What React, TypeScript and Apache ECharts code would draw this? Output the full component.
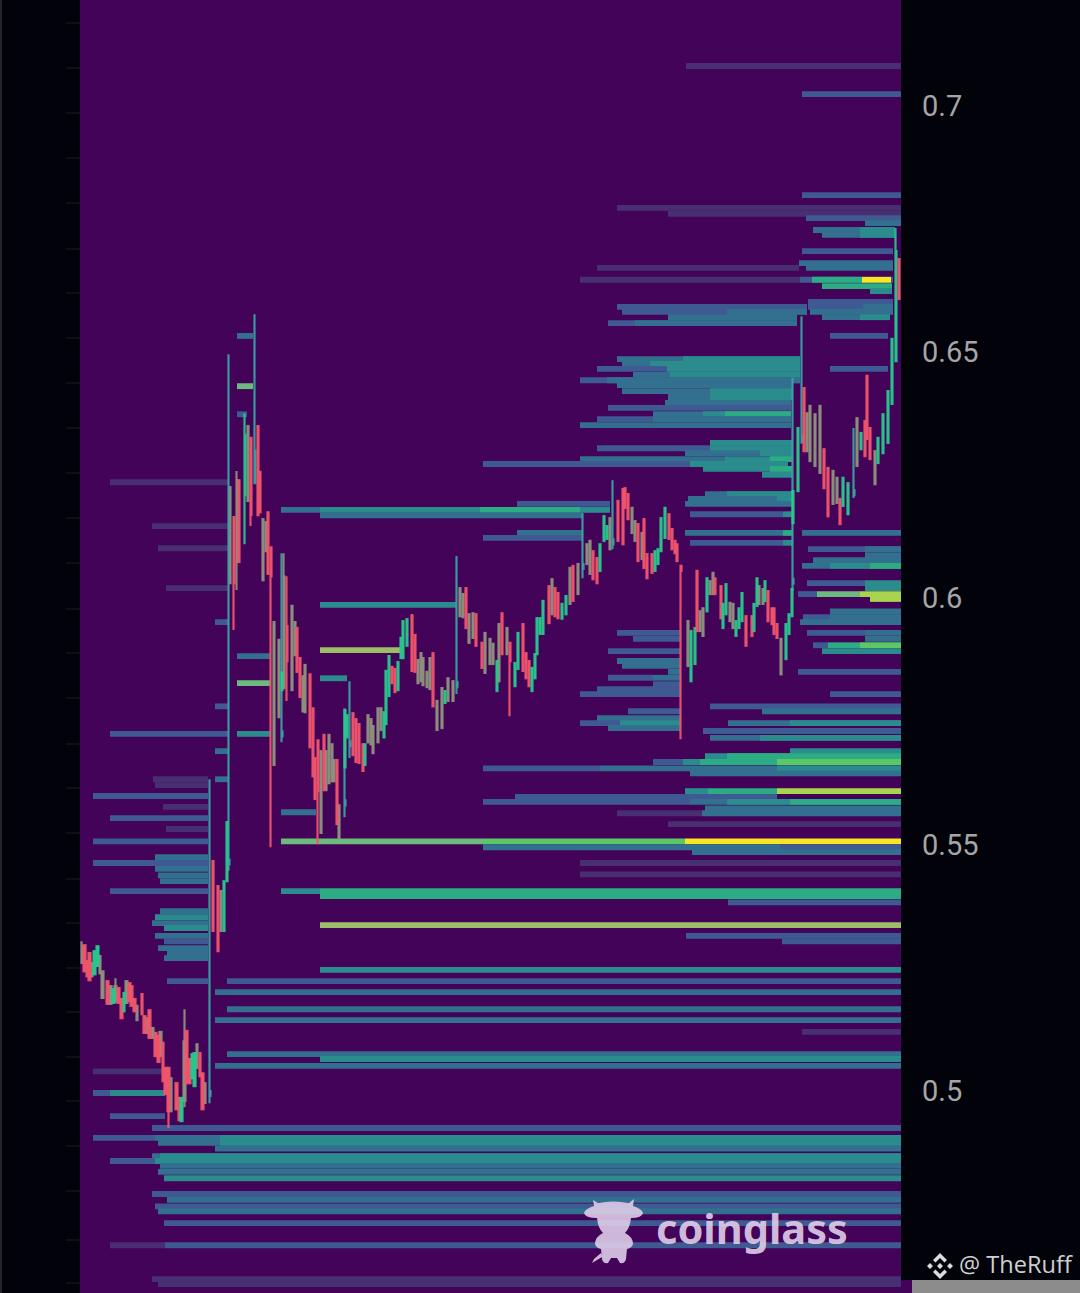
import React, { useEffect, useRef } from "react";
import * as echarts from "echarts";

// y-axis labels
const priceTicks = [0.5, 0.55, 0.6, 0.65, 0.7];
const minorTicks = [
  0.7168, 0.7077, 0.6986, 0.6894, 0.6803, 0.6711, 0.662, 0.6529, 0.6437, 0.6346, 0.6255, 0.6163, 0.6072, 0.598, 0.5889,
  0.5798, 0.5706, 0.5615, 0.5524, 0.5432, 0.5341, 0.525, 0.516, 0.5069, 0.498, 0.4888, 0.4797, 0.4699, 0.461,
];

// viridis-like liquidation levels (8 and 9 are the washed-out tones of the thin lines)
const heatColors = ["#482f72", "#3f5a92", "#33708f", "#2b8c8e", "#2bac82", "#5cc765", "#a8d44e", "#f7e422", "#9dbd66", "#6dbb7c"];

// [price, startTime, endTime, level]
const liquidationRows = [
  [0.7081, 606, 821, 0], [0.7024, 722, 821, 1], [0.6819, 722, 821, 1], [0.6793, 537, 821, 0], [0.6781, 588, 821, 0],
  [0.6772, 726, 821, 1], [0.6762, 785, 821, 2], [0.6748, 733, 815, 2], [0.6748, 780, 815, 3], [0.6738, 742, 815, 2],
  [0.6738, 780, 815, 3], [0.6705, 722, 813, 1], [0.6681, 719, 813, 2], [0.6671, 517, 719, 0], [0.6671, 726, 813, 2],
  [0.6647, 500, 720, 0], [0.6647, 720, 813, 1], [0.6647, 732, 782, 4], [0.6647, 782, 811, 7], [0.6634, 742, 812, 4],
  [0.6624, 790, 812, 3], [0.6602, 728, 813, 1], [0.6592, 537, 727, 1], [0.6592, 728, 783, 1], [0.6592, 783, 813, 2],
  [0.6582, 542, 727, 1], [0.6582, 647, 727, 2], [0.6582, 730, 813, 2], [0.6571, 588, 717, 2], [0.6571, 742, 810, 2],
  [0.6571, 780, 810, 3], [0.6559, 528, 717, 1], [0.6559, 555, 717, 2], [0.6533, 750, 808, 1], [0.6486, 537, 720, 2],
  [0.6486, 603, 720, 3], [0.6476, 542, 720, 2], [0.6476, 570, 720, 3], [0.6466, 517, 720, 1], [0.6466, 587, 720, 3],
  [0.6466, 750, 808, 1], [0.6454, 553, 720, 2], [0.6454, 590, 720, 3], [0.6443, 500, 720, 1], [0.6443, 527, 720, 2],
  [0.6433, 537, 713, 2], [0.6421, 542, 713, 2], [0.6421, 630, 713, 3], [0.6409, 588, 713, 2], [0.6409, 630, 713, 3],
  [0.6397, 585, 711, 2], [0.6387, 528, 711, 1], [0.6374, 573, 711, 2], [0.6374, 623, 711, 3], [0.6374, 645, 711, 4],
  [0.6364, 517, 711, 1], [0.6364, 573, 711, 2], [0.6352, 500, 711, 2], [0.6316, 630, 713, 3], [0.6305, 517, 713, 1],
  [0.6305, 630, 713, 3], [0.6295, 605, 713, 2], [0.6295, 680, 713, 3], [0.6283, 500, 645, 2], [0.6283, 645, 713, 3],
  [0.6283, 690, 713, 4], [0.6273, 403, 610, 1], [0.6273, 610, 708, 3], [0.6263, 623, 712, 3], [0.6263, 690, 712, 4],
  [0.6251, 682, 712, 3], [0.6212, 625, 713, 2], [0.6212, 647, 713, 3], [0.6202, 608, 713, 2], [0.6202, 697, 713, 3],
  [0.6192, 605, 713, 2], [0.6192, 437, 530, 1], [0.618, 201, 240, 2], [0.618, 240, 530, 3], [0.618, 400, 500, 4],
  [0.6169, 240, 503, 2], [0.6171, 610, 703, 1], [0.6171, 703, 713, 3], [0.6133, 437, 503, 2], [0.6133, 605, 703, 2],
  [0.6133, 703, 713, 4], [0.6133, 722, 821, 2], [0.6123, 403, 503, 1], [0.6113, 610, 703, 1], [0.6113, 703, 713, 3],
  [0.61, 728, 821, 1], [0.61, 785, 821, 2], [0.6088, 785, 821, 2], [0.6078, 733, 821, 2], [0.6066, 722, 821, 2],
  [0.6066, 750, 821, 3], [0.6066, 790, 821, 4], [0.6031, 727, 785, 1], [0.6031, 785, 821, 3], [0.6021, 785, 821, 3],
  [0.6009, 718, 737, 1], [0.6009, 737, 780, 9], [0.6009, 780, 821, 6], [0.5999, 790, 821, 6], [0.5974, 750, 821, 2],
  [0.5962, 723, 821, 1], [0.5962, 750, 821, 2], [0.5952, 720, 821, 2], [0.593, 727, 785, 1], [0.593, 785, 821, 2],
  [0.593, 537, 601, 1], [0.5918, 785, 821, 2], [0.5918, 553, 601, 1], [0.5905, 733, 748, 1], [0.5905, 748, 780, 4],
  [0.5905, 780, 821, 5], [0.5893, 742, 821, 3], [0.5893, 528, 601, 1], [0.5873, 537, 601, 2], [0.5863, 542, 601, 2],
  [0.5851, 718, 821, 1], [0.5851, 588, 601, 2], [0.5839, 528, 573, 1], [0.5839, 573, 601, 2], [0.5826, 573, 601, 1],
  [0.5816, 517, 601, 1], [0.5806, 500, 601, 1], [0.5806, 750, 821, 1], [0.5781, 630, 821, 1], [0.5771, 548, 601, 1],
  [0.5771, 682, 821, 2], [0.5757, 517, 601, 2], [0.5747, 500, 601, 1], [0.5747, 540, 601, 3], [0.5747, 648, 821, 2],
  [0.5747, 710, 821, 3], [0.5737, 528, 601, 2], [0.5731, 623, 821, 1], [0.5717, 630, 821, 2], [0.5717, 680, 821, 3],
  [0.569, 710, 821, 3], [0.568, 625, 821, 3], [0.568, 647, 821, 4], [0.5668, 573, 821, 1], [0.5668, 603, 821, 3],
  [0.5668, 620, 821, 4], [0.5668, 697, 821, 5], [0.5655, 403, 520, 1], [0.5655, 520, 821, 2], [0.5655, 697, 821, 3],
  [0.5645, 610, 821, 2], [0.5609, 605, 628, 3], [0.5609, 628, 697, 4], [0.5609, 697, 821, 6], [0.5597, 435, 697, 1],
  [0.5587, 403, 610, 1], [0.5587, 610, 821, 2], [0.5587, 647, 821, 3], [0.5587, 710, 821, 4], [0.5574, 625, 821, 2],
  [0.5564, 537, 622, 0], [0.5564, 622, 821, 2], [0.5542, 588, 821, 0], [0.5507, 201, 403, 9], [0.5507, 403, 605, 5],
  [0.5507, 605, 821, 7], [0.5495, 403, 700, 2], [0.5495, 700, 821, 1], [0.5485, 612, 821, 2], [0.5463, 500, 821, 0],
  [0.544, 500, 821, 0], [0.5406, 201, 240, 3], [0.5406, 240, 821, 4], [0.5396, 240, 821, 4], [0.5383, 648, 821, 1],
  [0.5337, 240, 821, 8], [0.5315, 606, 821, 1], [0.5304, 702, 821, 1], [0.5246, 240, 821, 3], [0.5223, 147, 821, 1],
  [0.5201, 135, 821, 2], [0.5166, 147, 821, 2], [0.5144, 135, 821, 2], [0.512, 722, 821, 0], [0.5075, 147, 821, 2],
  [0.5065, 240, 821, 3], [0.5051, 135, 821, 2], [0.4925, 72, 821, 1], [0.4905, 13, 75, 1], [0.4905, 75, 821, 2],
  [0.4905, 140, 821, 3], [0.4895, 78, 821, 2], [0.4895, 140, 821, 3], [0.4883, 135, 821, 2], [0.4868, 72, 821, 2],
  [0.4868, 80, 821, 3], [0.4858, 30, 75, 1], [0.4858, 75, 821, 3], [0.4848, 80, 821, 2], [0.4836, 78, 821, 2],
  [0.4823, 84, 821, 3], [0.4791, 72, 821, 1], [0.4779, 87, 821, 2], [0.4766, 75, 821, 1], [0.4756, 78, 821, 2],
  [0.4732, 84, 821, 1], [0.4687, 30, 85, 0], [0.4687, 85, 821, 1], [0.4618, 72, 821, 0], [0.4608, 78, 821, 0],
  [0.6236, 30, 148, 0], [0.6147, 72, 148, 0], [0.6102, 78, 148, 0], [0.6021, 86, 148, 0], [0.5952, 135, 148, 1],
  [0.5781, 135, 148, 1], [0.5725, 30, 148, 1], [0.569, 135, 148, 2], [0.5633, 135, 148, 2], [0.5633, 73, 128, 0],
  [0.5621, 75, 128, 0], [0.5599, 13, 128, 1], [0.5577, 83, 128, 0], [0.5554, 30, 128, 1], [0.5532, 86, 128, 0],
  [0.5507, 13, 128, 1], [0.5475, 75, 128, 2], [0.5463, 13, 128, 1], [0.5451, 75, 128, 2], [0.5438, 78, 128, 2],
  [0.5426, 80, 128, 2], [0.5406, 30, 128, 1], [0.5365, 80, 128, 2], [0.5353, 75, 128, 3], [0.5341, 72, 128, 2],
  [0.5331, 84, 128, 3], [0.5315, 75, 128, 2], [0.5304, 84, 128, 1], [0.529, 78, 128, 2], [0.528, 87, 128, 2],
  [0.527, 84, 128, 2], [0.5223, 87, 128, 1], [0.504, 13, 82, 0], [0.4996, 13, 85, 1], [0.4996, 30, 85, 3],
  [0.4949, 30, 85, 1], [0.6533, 157, 173, 2], [0.6431, 157, 173, 9], [0.6374, 157, 167, 1], [0.5883, 157, 190, 2],
  [0.5828, 157, 191, 9], [0.5725, 157, 191, 3], [0.5987, 240, 376, 3], [0.5895, 240, 322, 8], [0.5838, 240, 267, 3],
  [0.5566, 201, 236, 2],
];

// [time, open, close, low?, high?]
const wickCandles = [
  [130, 0.499, 0.5, 0.4975, 0.5633], [149, 0.546, 0.547, 0.5447, 0.6496], [175, 0.6234, 0.63, 0.6234, 0.6577],
  [202, 0.572, 0.573, 0.5708, 0.6092], [270, 0.57, 0.571, 0.5676, 0.5832], [265, 0.558, 0.559, 0.5556, 0.5777],
  [377, 0.582, 0.583, 0.5806, 0.6086], [503, 0.606, 0.607, 0.6041, 0.6173], [533, 0.611, 0.612, 0.61, 0.624],
  [713, 0.603, 0.604, 0.6015, 0.6448], [722, 0.632, 0.633, 0.6314, 0.6573], [774, 0.621, 0.622, 0.6204, 0.6346],
];

const mixedCandles = [
  [2, 0.526, 0.5294, 0.526, 0.5304], [12, 0.526, 0.5233], [20, 0.5274, 0.5239], [22.7, 0.5243, 0.5189], [30.7, 0.5213, 0.5177],
  [35.7, 0.5183, 0.5213, 0.5179, 0.5229], [46.7, 0.5223, 0.5179], [57, 0.5173, 0.5144], [67.3, 0.5148, 0.5118],
  [72.3, 0.5128, 0.5108], [80.7, 0.512, 0.5071], [91, 0.5026, 0.4959], [104.3, 0.498, 0.5101, 0.4967, 0.5166],
  [117, 0.5047, 0.5095], [125, 0.5016, 0.4976], [141, 0.5406, 0.5325], [150, 0.6226, 0.6031], [157, 0.624, 0.6074, 0.6017, 0.6259],
  [168, 0.635, 0.6198], [183, 0.6161, 0.6037], [186, 0.6155, 0.6096], [194, 0.5952, 0.5662], [199, 0.5916, 0.5759],
  [204, 0.6045, 0.5818, 0.5818, 0.6092], [212, 0.5985, 0.5814], [215, 0.5952, 0.5885], [223, 0.5842, 0.5771], [225, 0.5865, 0.5769],
  [241, 0.569, 0.5524], [246, 0.569, 0.5611], [249, 0.5723, 0.5625], [252, 0.5704, 0.5629], [254, 0.5672, 0.5629],
  [259, 0.558, 0.5513], [288, 0.5763, 0.5708], [291, 0.5755, 0.5704], [293, 0.5741, 0.5686], [298, 0.5777, 0.5708],
  [301, 0.5777, 0.5733], [338, 0.5875, 0.5828], [341, 0.5889, 0.5832], [343, 0.5879, 0.5824], [347, 0.5851, 0.582],
  [350, 0.5879, 0.5816], [357, 0.5792, 0.5733], [362, 0.5818, 0.5737], [368, 0.5838, 0.5792], [373, 0.5832, 0.5792],
  [380, 0.6021, 0.5964], [383, 0.6009, 0.5962], [389, 0.5968, 0.591], [393, 0.597, 0.592], [405, 0.593, 0.5849],
  [410, 0.5918, 0.5867], [413, 0.5908, 0.5867], [419, 0.5948, 0.5832], [427, 0.594, 0.5887], [472, 0.6039, 0.5968],
  [490, 0.6062, 0.5989], [498, 0.607, 0.6009], [507, 0.611, 0.607], [510, 0.6117, 0.605], [530, 0.6163, 0.61],
  [552, 0.6184, 0.6133], [555, 0.6157, 0.6117], [562, 0.6133, 0.608], [608, 0.5954, 0.5863], [620, 0.5974, 0.5934],
  [623, 0.598, 0.5924], [630, 0.6035, 0.6009], [633, 0.6052, 0.6009], [650, 0.5991, 0.5954], [653, 0.5989, 0.594],
  [679, 0.6025, 0.5989], [683, 0.6019, 0.5989], [701, 0.5918, 0.5846], [727, 0.6376, 0.6299], [730, 0.6391, 0.6279],
  [735, 0.6374, 0.6269], [740, 0.6391, 0.6255], [753, 0.6259, 0.6192], [757, 0.6245, 0.6194], [777, 0.6366, 0.6269],
  [795, 0.6299, 0.6232],
];

const candles = [
  [4.3, 0.5296, 0.5243], [7, 0.5264, 0.5233], [9.3, 0.528, 0.5225], [14.7, 0.5237, 0.5284], [17.3, 0.5254, 0.5294],
  [27.7, 0.5223, 0.5177], [33.3, 0.5179, 0.5207], [38.7, 0.5209, 0.5179], [41.3, 0.5187, 0.5148], [44, 0.5162, 0.5199],
  [49.3, 0.5219, 0.5183], [51.7, 0.5213, 0.5173], [54.3, 0.5187, 0.5162], [62, 0.5197, 0.5156], [64.7, 0.5152, 0.5118],
  [69.7, 0.5164, 0.5108], [75.7, 0.5118, 0.5071], [78.3, 0.5112, 0.5059], [83, 0.5098, 0.502], [85.7, 0.5047, 0.4994],
  [88.3, 0.5047, 0.4959, 0.4925, 0.5047], [96.3, 0.5016, 0.4963], [99, 0.4986, 0.4941], [101.7, 0.4939, 0.4986],
  [106.7, 0.5122, 0.5016], [109.3, 0.5065, 0.5016], [112, 0.5026, 0.5075], [114.7, 0.501, 0.5077], [120, 0.5077, 0.503],
  [122.3, 0.5036, 0.4963], [133, 0.5467, 0.5325], [138, 0.5416, 0.5284], [144, 0.5325, 0.5426], [147, 0.5426, 0.5546],
  [154, 0.6165, 0.6031, 0.5936, 0.6165], [159, 0.624, 0.6074], [165, 0.621, 0.6332, 0.611, 0.6376],
  [171, 0.6326, 0.6169, 0.6147, 0.6326], [178, 0.635, 0.6169], [180, 0.6257, 0.6175], [188, 0.6175, 0.605],
  [191, 0.6104, 0.6045, 0.5495, 0.6104], [202, 0.5814, 0.585], [207, 0.5944, 0.5873, 0.5792, 0.6045], [217, 0.594, 0.5851],
  [220, 0.5879, 0.58], [230, 0.5846, 0.5698], [233, 0.5777, 0.5639], [235, 0.5676, 0.5593], [238, 0.5712, 0.5609, 0.5501, 0.5712],
  [244, 0.5723, 0.5611], [257, 0.5672, 0.5542], [265, 0.5657, 0.5773], [267, 0.5718, 0.5763], [273, 0.5767, 0.5682],
  [276, 0.5755, 0.5668], [279, 0.5745, 0.5666], [283, 0.5704, 0.565], [285, 0.5662, 0.5704], [304, 0.5718, 0.5769],
  [306, 0.5745, 0.5853], [309, 0.5802, 0.5883], [312, 0.5861, 0.5828], [315, 0.5857, 0.581], [318, 0.5814, 0.5871],
  [321, 0.5879, 0.592], [323, 0.5879, 0.5954], [327, 0.5904, 0.5958], [332, 0.5966, 0.5853], [335, 0.5926, 0.5851],
  [353, 0.5889, 0.5781], [365, 0.5788, 0.5812], [386, 0.6021, 0.594], [396, 0.5968, 0.5904], [402, 0.591, 0.5859],
  [417, 0.5812, 0.5873], [422, 0.597, 0.5887], [430, 0.591, 0.5873, 0.5761, 0.591], [435, 0.5822, 0.5869], [438, 0.5857, 0.593],
  [443, 0.5948, 0.5853], [446, 0.5889, 0.5838], [449, 0.5873, 0.5822], [452, 0.5812, 0.5859], [455, 0.5838, 0.5887],
  [457, 0.5887, 0.596], [460, 0.5928, 0.596], [463, 0.5928, 0.5995], [469, 0.6025, 0.595], [475, 0.6021, 0.5964],
  [478, 0.6011, 0.596], [482, 0.5959, 0.5989], [486, 0.5968, 0.6005], [493, 0.6066, 0.5995], [513, 0.6096, 0.6039],
  [517, 0.6082, 0.6031], [520, 0.6056, 0.611], [524, 0.6117, 0.6167], [527, 0.6121, 0.6147], [538, 0.6198, 0.6117],
  [543, 0.6222, 0.611], [545, 0.6224, 0.6184], [548, 0.6212, 0.6161], [558, 0.6151, 0.6076], [564, 0.6161, 0.6062],
  [567, 0.609, 0.6041], [572, 0.609, 0.6052], [575, 0.6056, 0.6096], [578, 0.607, 0.61], [581, 0.6096, 0.6163],
  [585, 0.6123, 0.6184], [589, 0.6171, 0.6121], [592, 0.6141, 0.61], [595, 0.6117, 0.6092], [597, 0.611, 0.6076],
  [601, 0.6066, 0.6056, 0.5714, 0.6066], [611, 0.5832, 0.5934], [615, 0.5867, 0.594], [617, 0.6056, 0.5934], [627, 0.5974, 0.6041],
  [635, 0.6041, 0.6009], [641, 0.6025, 0.596], [643, 0.594, 0.5989], [646, 0.5968, 0.6029], [656, 0.5924, 0.5954],
  [659, 0.594, 0.598], [662, 0.5954, 0.6011], [666, 0.5964, 0.5904], [672, 0.5964, 0.5924], [674, 0.5934, 0.5989],
  [677, 0.5985, 0.6041], [685, 0.5995, 0.6035], [688, 0.6015, 0.5954], [692, 0.598, 0.5948], [694, 0.598, 0.5928],
  [697, 0.5948, 0.592], [706, 0.5877, 0.5948], [709, 0.5928, 0.5968], [712, 0.5964, 0.6019], [713, 0.6153, 0.6218],
  [718, 0.6218, 0.6346], [724, 0.6427, 0.6299], [744, 0.6303, 0.6224], [748, 0.6265, 0.6167], [760, 0.6202, 0.6151],
  [763, 0.6188, 0.6245], [768, 0.6171, 0.6234], [781, 0.6303, 0.6336], [785, 0.636, 0.6289], [787, 0.6452, 0.6324],
  [790, 0.6346, 0.6283], [798, 0.6275, 0.6326], [803, 0.6295, 0.6374], [808, 0.6316, 0.6421], [812, 0.6395, 0.6527],
  [816, 0.6482, 0.6705, 0.6482, 0.6752], [819, 0.6689, 0.6608],
];

const watermarkText = "coinglass";
const authorText = "@ TheRuff";

echarts.graphic.registerShape(
  "cowLogo",
  echarts.graphic.extendPath(
    "M10 8 L9 3 L14 6 Q29 3 45 6 L50 2 L49 9 Q58 12 59 16 Q58 21 47 21 Q46 31 41 36 Q49 40 49 47 Q48 51 43 52 L42 62 Q41 67 36 66 L33 61 L27 61 L24 66 Q19 67 18 62 L17 52 Q12 51 11 47 Q11 40 19 36 Q14 31 13 21 Q1 21 0 16 Q1 12 10 9 Z M18 60 L8 66 L10 62 L17 56 Z",
    {}
  )
);
echarts.graphic.registerShape(
  "binanceMark",
  echarts.graphic.extendPath(
    "M13 0 L20 7 L17.5 9.5 L13 5 L8.5 9.5 L6 7 Z M13 26 L20 19 L17.5 16.5 L13 21 L8.5 16.5 L6 19 Z M0 13 L3 10 L6 13 L3 16 Z M26 13 L23 10 L20 13 L23 16 Z M13 10 L16 13 L13 16 L10 13 Z",
    {}
  )
);

const withRange = (rows: number[][]) =>
  rows.map(([x, o, c, l, h]) => [x, o, c, l ?? Math.min(o, c), h ?? Math.max(o, c)]);

const candleSeries = (name: string, rows: number[][], up: string, down: string) => ({
  name,
  type: "candlestick",
  large: false,
  barWidth: 2,
  data: withRange(rows),
  z: 5,
  itemStyle: { color: up, color0: down, borderColor: up, borderColor0: down, borderWidth: 2.2, opacity: 0.92 },
  silent: true,
});

export default function App() {
  const ref = useRef<HTMLDivElement>(null);
  useEffect(() => {
    document.body.style.margin = "0";
    const chart = echarts.init(ref.current!, null, { renderer: "svg" });
    const yRange = { min: 0.459, max: 0.7215 };
    chart.setOption({
      animation: false,
      backgroundColor: "#02030a",
      grid: { left: 80, top: 0, width: 821, height: 1293, show: true, backgroundColor: "#430358", borderWidth: 0 },
      xAxis: { type: "value", min: 0, max: 821, show: false },
      yAxis: [
        {
          type: "value",
          position: "right",
          ...yRange,
          splitLine: { show: false },
          axisLine: { show: false },
          axisTick: { show: false },
          axisLabel: {
            show: true,
            customValues: priceTicks,
            formatter: (v: number) => String(v),
            color: "#a6a6a6",
            fontFamily: "Roboto",
            fontSize: 29,
            margin: 21,
          },
        },
        {
          type: "value",
          position: "left",
          ...yRange,
          splitLine: { show: false },
          axisLine: { show: false },
          axisLabel: { show: false },
          axisTick: { show: true, customValues: minorTicks, length: 14, lineStyle: { color: "#0f1015", width: 2 } },
        },
      ],
      series: [
        {
          name: "Liquidation levels",
          type: "custom",
          silent: true,
          z: 2,
          data: liquidationRows,
          encode: { x: [1, 2], y: 0 },
          renderItem: (_: any, api: any) => {
            const p = api.value(0);
            const a = api.coord([api.value(1), p + 0.00059]);
            const b = api.coord([api.value(2), p - 0.00059]);
            return {
              type: "rect",
              shape: { x: a[0], y: a[1], width: b[0] - a[0], height: b[1] - a[1] },
              style: { fill: heatColors[api.value(3)] },
            };
          },
        },
        candleSeries("Mixed", mixedCandles, "#8f937f", "#8f937f"),
        candleSeries("Wicks", wickCandles, "#3aa4a4", "#3aa4a4"),
        candleSeries("Price", candles, "#27c98d", "#f0566b"),
      ],
      graphic: [
        { type: "rect", z: 20, shape: { x: 0, y: 0, width: 2, height: 1293 }, style: { fill: "#22252b" } },
        { type: "rect", z: 20, shape: { x: 901, y: 1280, width: 11, height: 13 }, style: { fill: "#430358" } },
        { type: "rect", z: 20, shape: { x: 912, y: 1280, width: 168, height: 13 }, style: { fill: "#8c8c8c" } },
        { type: "cowLogo", z: 21, x: 584, y: 1197, style: { fill: "rgba(222,204,232,0.9)" } },
        {
          type: "text",
          z: 21,
          x: 656,
          y: 1207,
          style: { text: watermarkText, fill: "rgba(222,204,232,0.92)", font: "700 41.5px 'Noto Sans'" },
        },
        { type: "binanceMark", z: 21, x: 927, y: 1253, style: { fill: "#dcdcdc" } },
        { type: "text", z: 21, x: 959, y: 1252, style: { text: authorText, fill: "#cfcfcf", font: "23.6px 'Open Sans'" } },
      ],
    });
    return () => chart.dispose();
  }, []);
  return <div ref={ref} style={{ width: 1080, height: 1293 }} />;
}
